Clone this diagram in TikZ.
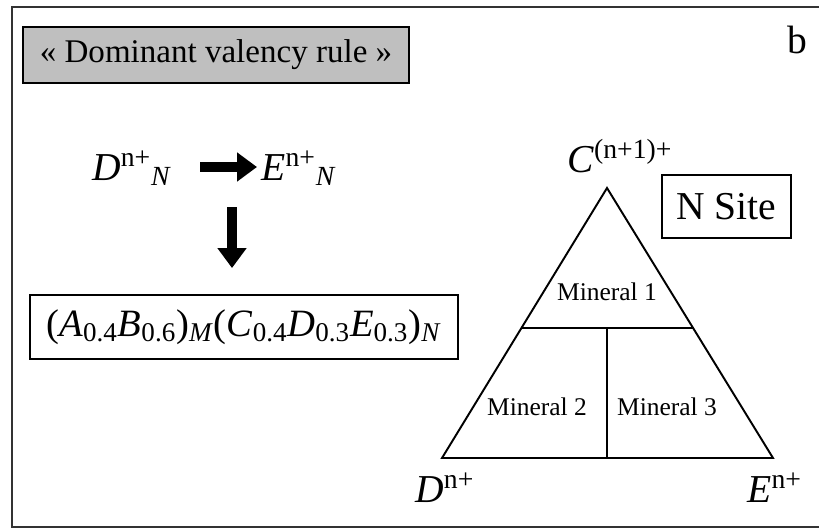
\documentclass[tikz,border=0pt]{standalone}
\usepackage{fontspec}
\setmainfont{Liberation Serif}
\usetikzlibrary{arrows.meta, positioning, calc}

\begin{document}
\begin{tikzpicture}[
    bigtext/.style={font=\fontsize{22.5}{26}\selectfont, inner sep=0pt},
    smalltext/.style={font=\fontsize{14.5}{17}\selectfont, inner sep=0pt},
    framebox/.style={draw, line width=1.1pt, inner sep=0pt},
    fatarrow/.style={line width=0.2cm, -{Triangle[length=0.4cm, width=0.56cm]}},
    edge/.style={line width=1.1pt}]
    \useasboundingbox (0,0) rectangle (16.38,10.58);

    % outer frame (right side runs off the page)
    \draw[line width=1.4pt, black!80] (17,10.44) -- (0.24,10.44) -- (0.24,0.04) -- (17,0.04);

    \node[framebox, line width=1.5pt, fill=black!25, minimum width=7.72cm, minimum height=1.12cm,
          font=\fontsize{18.8}{22}\selectfont] (title) at (4.32,9.48) {« Dominant valency rule »};
    \node[bigtext, anchor=base] (panel) at (15.94,9.52) {b};

    % substitution D -> E
    \node[bigtext, anchor=base west] (dn) at (1.84,6.98) {\textit{D}\textsuperscript{n+}\textsubscript{\textit{N}}};
    \node[bigtext, anchor=base west] (en) at (5.22,6.98) {\textit{E}\textsuperscript{n+}\textsubscript{\textit{N}}};
    \coordinate (row) at (4.0,7.24);
    \coordinate (split) at (4.64,6.44);

    \node[framebox, minimum width=8.56cm, minimum height=1.28cm, font=\fontsize{22}{26}\selectfont]
        (formula) at (4.88,4.04)
        {(\textit{A}\textsubscript{0.4}\textit{B}\textsubscript{0.6})\textsubscript{\textit{M}}(\textit{C}\textsubscript{0.4}\textit{D}\textsubscript{0.3}\textit{E}\textsubscript{0.3})\textsubscript{\textit{N}}};

    \draw[fatarrow, shorten >=0.08cm] (row) -- (en.west |- row);
    \draw[fatarrow, shorten >=0.52cm] (split) -- (split |- formula.north);

    % ternary diagram of the N site
    \coordinate (C) at (12.14,6.82);
    \coordinate (D) at (8.84,1.42);
    \coordinate (E) at (15.46,1.42);
    \coordinate (cutL) at ($(C)!0.5185!(D)$);
    \coordinate (cutR) at ($(C)!0.5185!(E)$);
    \draw[edge, line join=miter] (C) -- (D) -- (E) -- cycle;
    \draw[edge] (cutL) -- (cutR);
    \draw[edge] (C |- cutL) -- (C |- D);

    \node[smalltext] (m1) at (12.14,4.74) {Mineral 1};
    \node[smalltext] (m2) at (10.74,2.44) {Mineral 2};
    \node[smalltext] (m3) at (13.34,2.44) {Mineral 3};

    \node[bigtext, anchor=base west] (ctop) at (11.34,7.14) {\textit{C}\textsuperscript{(n+1)+}};
    \node[bigtext, anchor=base west] (dleft) at (8.3,0.54) {\textit{D}\textsuperscript{n+}};
    \node[bigtext, anchor=base west] (eright) at (14.94,0.54) {\textit{E}\textsuperscript{n+}};

    \node[framebox, minimum width=2.58cm, minimum height=1.26cm, font=\fontsize{22.5}{26}\selectfont]
        (site) at (14.53,6.45) {N Site};
\end{tikzpicture}
\end{document}
